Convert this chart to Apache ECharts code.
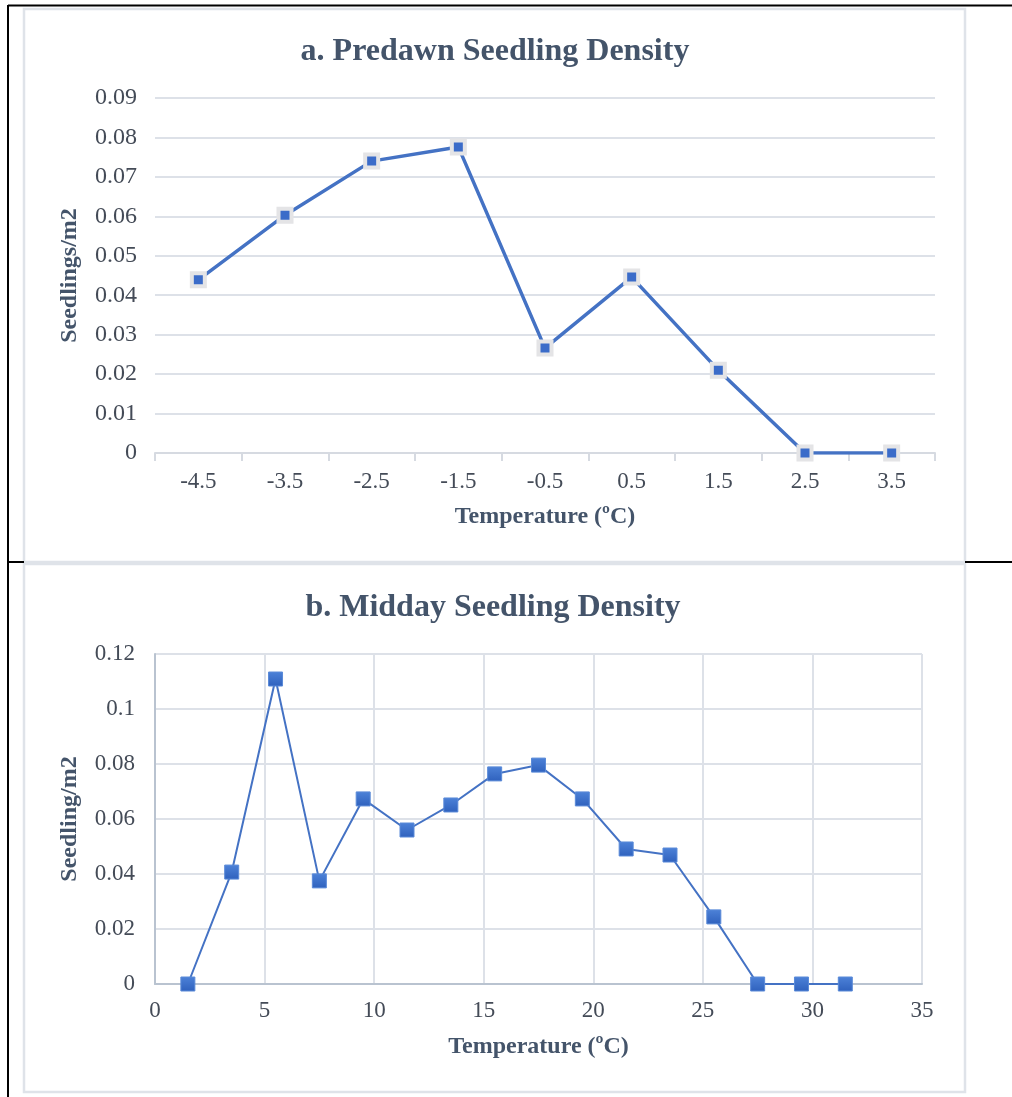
<!DOCTYPE html>
<html>
<head>
<meta charset="utf-8">
<script src="https://cdn.jsdelivr.net/npm/echarts@6/dist/echarts.min.js"></script>
<style>
html,body{margin:0;padding:0;background:#fff;}
#c{width:1012px;height:1097px;}
</style>
</head>
<body>
<div id="c"></div>
<script>
// Chart a: Predawn
const predawnCategories = ['-4.5','-3.5','-2.5','-1.5','-0.5','0.5','1.5','2.5','3.5'];
const predawnValues = [0.0439, 0.0603, 0.0740, 0.0776, 0.0266, 0.0446, 0.0210, 0, 0];
// Chart b: Midday
const middayTemps = [1.5, 3.5, 5.5, 7.5, 9.5, 11.5, 13.5, 15.5, 17.5, 19.5, 21.5, 23.5, 25.5, 27.5, 29.5, 31.5];
const middayValues = [0, 0.0407, 0.1109, 0.0375, 0.0673, 0.0560, 0.0651, 0.0764, 0.0796, 0.0673, 0.0491, 0.0469, 0.0244, 0, 0, 0];

const titleA = 'a. Predawn Seedling Density';
const titleB = 'b. Midday Seedling Density';
const yNameA = 'Seedlings/m2';
const yNameB = 'Seedling/m2';
const xName = 'Temperature (ºC)';

const FONT = "'Liberation Serif','Times New Roman',serif";
const TITLE_C = '#44546A';
const LABEL_C = '#444b57';
const GRID_C = '#dde1e8';

const fmt = v => v === 0 ? '0' : String(parseFloat(v.toFixed(3)));

const chart = echarts.init(document.getElementById('c'), null, {renderer:'canvas'});

const option = {
  animation: false,
  backgroundColor: '#fff',
  title: [
    {text: titleA, left: 490, top: 31, textAlign: 'center',
     textStyle: {fontFamily: FONT, fontSize: 32, fontWeight: 'bold', color: TITLE_C}},
    {text: titleB, left: 488, top: 587, textAlign: 'center',
     textStyle: {fontFamily: FONT, fontSize: 32, fontWeight: 'bold', color: TITLE_C}}
  ],
  grid: [
    {left: 155, top: 98, width: 780, height: 355},
    {left: 155, top: 654, width: 767, height: 330}
  ],
  xAxis: [
    {type: 'category', gridIndex: 0, data: predawnCategories, boundaryGap: true,
     name: xName, nameLocation: 'middle', nameGap: 52,
     nameTextStyle: {fontFamily: FONT, fontSize: 24, fontWeight: 'bold', color: TITLE_C},
     axisLine: {show: true, lineStyle: {color: '#d6dae1', width: 2}},
     axisTick: {show: true, length: 8, lineStyle: {color: '#d6dae1', width: 2}},
     axisLabel: {fontFamily: FONT, fontSize: 23, color: LABEL_C, margin: 17},
     splitLine: {show: false}},
    {type: 'value', gridIndex: 1, min: 0, max: 35, interval: 5,
     name: xName, nameLocation: 'middle', nameGap: 51,
     nameTextStyle: {fontFamily: FONT, fontSize: 24, fontWeight: 'bold', color: TITLE_C},
     axisLine: {show: true, onZero: false, lineStyle: {color: '#b9c3d0', width: 2}},
     axisTick: {show: false},
     axisLabel: {fontFamily: FONT, fontSize: 23, color: LABEL_C, margin: 15},
     splitLine: {show: true, lineStyle: {color: GRID_C, width: 2}}}
  ],
  yAxis: [
    {type: 'value', gridIndex: 0, min: 0, max: 0.09, interval: 0.01,
     name: yNameA, nameLocation: 'middle', nameGap: 73, nameRotate: 90,
     nameTextStyle: {fontFamily: FONT, fontSize: 24, fontWeight: 'bold', color: TITLE_C},
     axisLine: {show: false}, axisTick: {show: false},
     axisLabel: {fontFamily: FONT, fontSize: 24, color: LABEL_C, margin: 18, formatter: fmt},
     splitLine: {show: true, lineStyle: {color: GRID_C, width: 2}}},
    {type: 'value', gridIndex: 1, min: 0, max: 0.12, interval: 0.02,
     name: yNameB, nameLocation: 'middle', nameGap: 73, nameRotate: 90,
     nameTextStyle: {fontFamily: FONT, fontSize: 24, fontWeight: 'bold', color: TITLE_C},
     axisLine: {show: true, lineStyle: {color: '#b9c3d0', width: 2}}, axisTick: {show: false},
     axisLabel: {fontFamily: FONT, fontSize: 23, color: LABEL_C, margin: 20, formatter: fmt},
     splitLine: {show: true, lineStyle: {color: GRID_C, width: 2}}}
  ],
  series: [
    {type: 'line', xAxisIndex: 0, yAxisIndex: 0, data: predawnValues,
     symbol: 'rect', symbolSize: 13,
     lineStyle: {color: '#4472C4', width: 3.5},
     itemStyle: {color: '#3b6cc9', borderColor: '#e4e4e6', borderWidth: 4}},
    {type: 'line', xAxisIndex: 1, yAxisIndex: 1,
     data: middayTemps.map((t, i) => [t, middayValues[i]]),
     symbol: 'rect', symbolSize: 14,
     lineStyle: {color: '#4472C4', width: 2},
     itemStyle: {
       color: new echarts.graphic.LinearGradient(0, 0, 0, 1, [
         {offset: 0, color: '#4d82d8'}, {offset: 1, color: '#2f61bd'}]),
       borderColor: '#5a8ad8', borderWidth: 1}}
  ],
  graphic: [
    {type: 'rect', shape: {x: 24, y: 9, width: 941, height: 553}, z: -1,
     style: {fill: 'none', stroke: '#dfe3e9', lineWidth: 2.5}},
    {type: 'rect', shape: {x: 24, y: 564, width: 941, height: 528}, z: -1,
     style: {fill: 'none', stroke: '#dfe3e9', lineWidth: 2.5}},
    {type: 'line', shape: {x1: 8, y1: 5.5, x2: 1012, y2: 5.5}, style: {stroke: '#000', lineWidth: 2}},
    {type: 'line', shape: {x1: 8, y1: 5, x2: 8, y2: 1097}, style: {stroke: '#000', lineWidth: 2}},
    {type: 'line', shape: {x1: 8, y1: 562, x2: 24, y2: 562}, style: {stroke: '#000', lineWidth: 2}},
    {type: 'line', shape: {x1: 965, y1: 562, x2: 1012, y2: 562}, style: {stroke: '#000', lineWidth: 2}}
  ]
};
chart.setOption(option);
</script>
</body>
</html>
